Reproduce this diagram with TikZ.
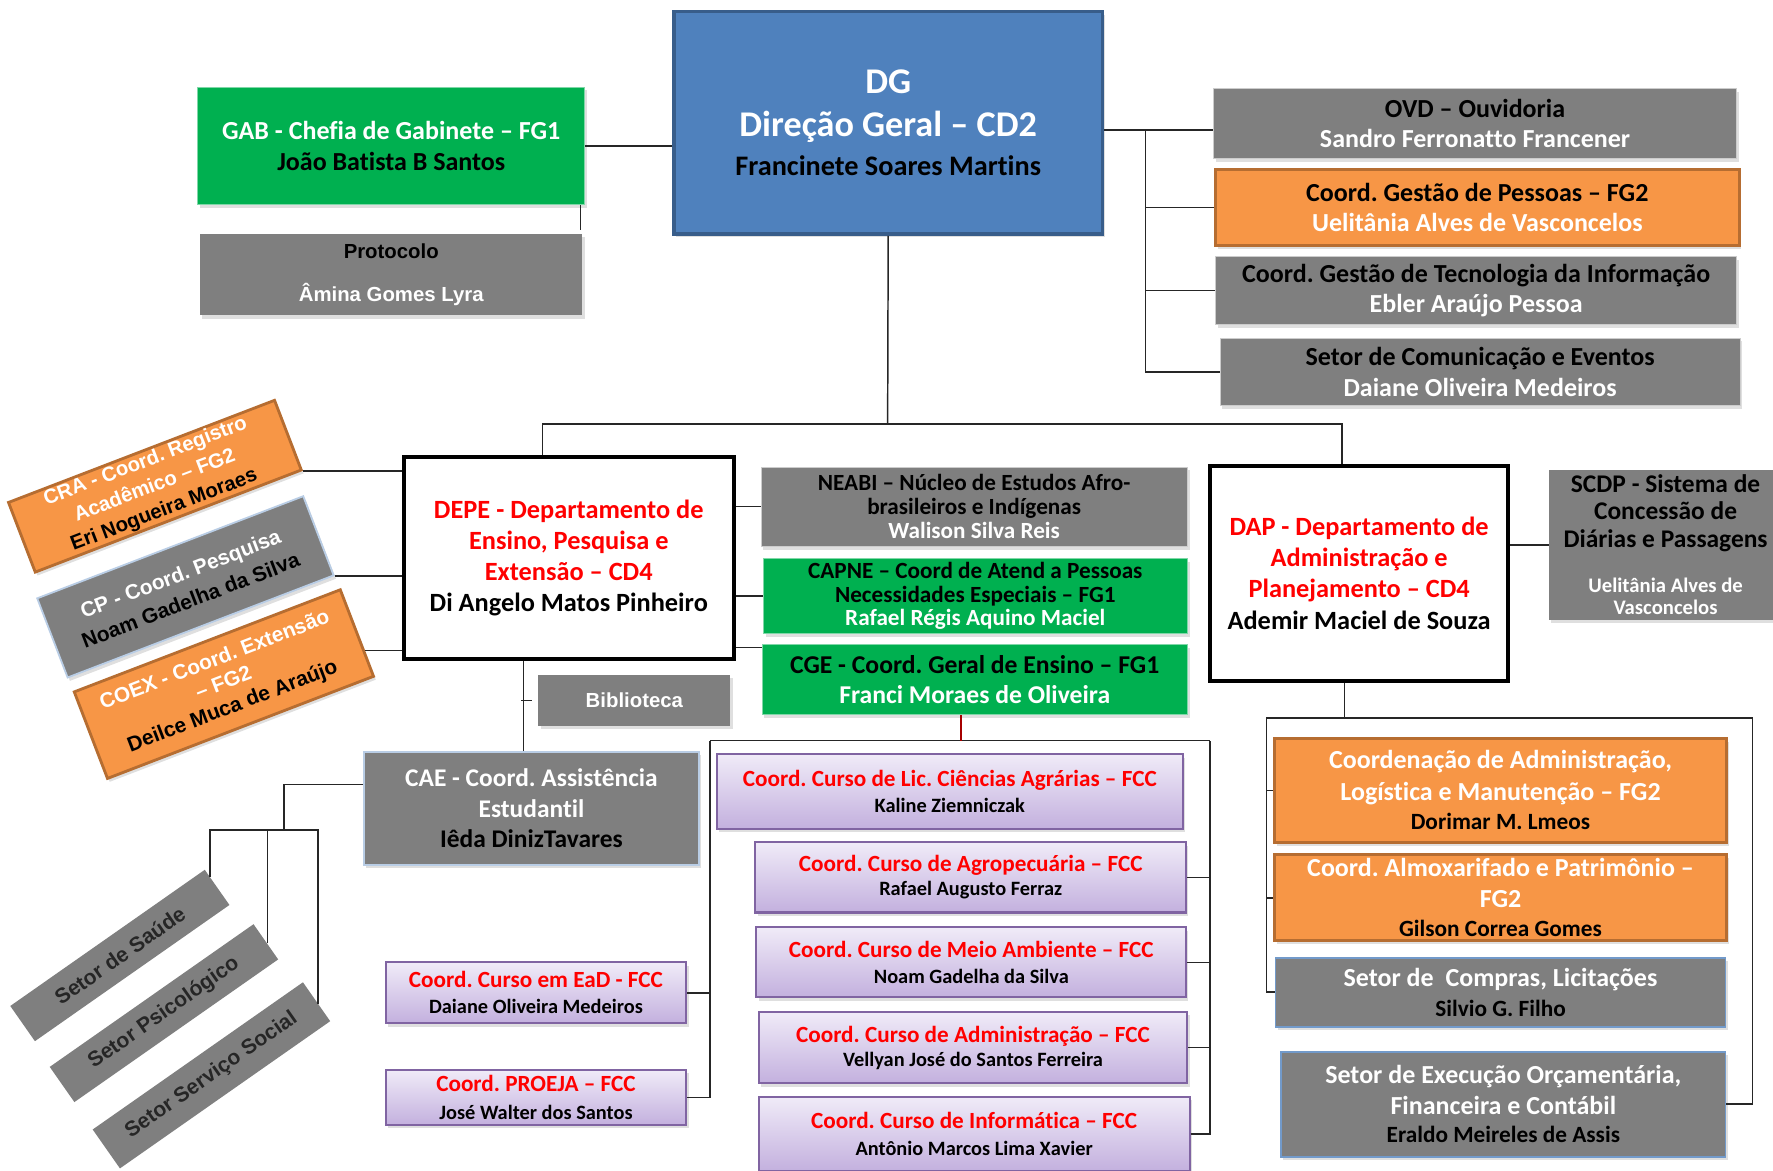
\documentclass[tikz,border=0pt]{standalone}
\usepackage{fontspec}
\setmainfont{Carlito}[Ligatures=NoCommon]
\newfontfamily\arialfont{Liberation Sans}
\usepackage{xcolor}
\usetikzlibrary{positioning,shadows,calc}

\definecolor{dgblue}{HTML}{4F81BD}
\definecolor{dgrim}{HTML}{385D8A}
\definecolor{gabgreen}{HTML}{00B050}
\definecolor{boxgray}{HTML}{7F7F7F}
\definecolor{orgfill}{HTML}{F79646}
\definecolor{orgrim}{HTML}{B66D31}
\definecolor{lavtop}{HTML}{F0EBF8}
\definecolor{lavbot}{HTML}{C3B0DE}
\definecolor{lavrim}{HTML}{8064A2}
\definecolor{txtred}{HTML}{FF0000}
\definecolor{lightrim}{HTML}{B9CDE5}

\newcommand{\fsz}[2]{\fontsize{#1}{#2}\selectfont}
\frenchspacing

\begin{document}
\begin{tikzpicture}[x=1pt,y=-1pt]
\tikzstyle{every node}+=[inner sep=0pt, align=center]
\tikzstyle{soft shadow}=[drop shadow={opacity=0.25,shadow xshift=2pt,shadow yshift=-3pt}]
\tikzstyle{grey box}=[fill=boxgray, draw=white!80!black, line width=0.8pt, soft shadow]
\tikzstyle{green box}=[fill=gabgreen, draw=gabgreen!50!white, line width=0.8pt, soft shadow]
\tikzstyle{orange box}=[fill=orgfill, draw=orgrim, line width=2.5pt, soft shadow]
\tikzstyle{dept box}=[fill=white, draw=black, line width=3.5pt]
\tikzstyle{course box}=[top color=lavtop, bottom color=lavbot, draw=lavrim, line width=1.8pt, soft shadow]
\tikzstyle{blue rim}=[draw=dgblue!80!white, line width=1.6pt]
\tikzstyle{link}=[draw=black!85, line width=1.3pt]
\useasboundingbox (0,0) rectangle (1568,1035);

% top level
\node[fill=dgblue, draw=dgrim, line width=3pt, soft shadow, minimum width=379pt, minimum height=197pt,
  font=\bfseries\fsz{32}{38}, text=white] (dg) at (785.5,108.5)
  {DG\\Direção Geral – CD2\\[-4pt]{\fsz{25}{28}\textcolor{black}{Francinete Soares Martins}}};
\node[green box, minimum width=342pt, minimum height=104pt, font=\bfseries\fsz{23}{27}] (gab) at (346,129)
  {\textcolor{white}{GAB - Chefia de Gabinete – FG1}\\João Batista B Santos};
\node[grey box, draw=none, minimum width=338pt, minimum height=72pt, font=\arialfont\bfseries\fsz{18}{38}] (prot) at (346,243)
  {\rule[-8pt]{0pt}{8pt}Protocolo\\\textcolor{white}{Âmina Gomes Lyra}};

% right of DG
\node[grey box, minimum width=463pt, minimum height=62pt, font=\bfseries\fsz{23}{27}] (ovd) at (1304.5,109)
  {OVD – Ouvidoria\\\textcolor{white}{Sandro Ferronatto Francener}};
\node[orange box, minimum width=463pt, minimum height=67pt, font=\bfseries\fsz{23}{27}] (pes) at (1306.5,183.5)
  {Coord. Gestão de Pessoas – FG2\\\textcolor{white}{Uelitânia Alves de Vasconcelos}};
\node[grey box, minimum width=461pt, minimum height=60pt, font=\bfseries\fsz{23}{27}] (tec) at (1305.5,257)
  {Coord. Gestão de Tecnologia da Informação\\\textcolor{white}{Ebler Araújo Pessoa}};
\node[grey box, minimum width=460pt, minimum height=60pt, font=\bfseries\fsz{23}{27}] (cme) at (1309,329)
  {Setor de Comunicação e Eventos\\\textcolor{white}{Daiane Oliveira Medeiros}};

% departments
\node[dept box, minimum width=292pt, minimum height=179pt, font=\bfseries\fsz{23.3}{27.5}] (depe) at (503,493.5)
  {\textcolor{txtred}{DEPE - Departamento de}\\\textcolor{txtred}{Ensino, Pesquisa e}\\\textcolor{txtred}{Extensão – CD4}\\Di Angelo Matos Pinheiro};
\node[dept box, minimum width=264pt, minimum height=190pt, font=\bfseries\fsz{23.3}{27.5}] (dap) at (1202,507)
  {\textcolor{txtred}{DAP - Departamento de}\\\textcolor{txtred}{Administração e}\\\textcolor{txtred}{Planejamento – CD4}\\Ademir Maciel de Souza};

% left of DEPE
\node[orange box, rotate=21, minimum width=252pt, minimum height=66pt, font=\arialfont\bfseries\fsz{18}{23}] (cra) at (137,430)
  {\textcolor{white}{CRA - Coord. Registro}\\\textcolor{white}{Acadêmico – FG2}\\Eri Nogueira Moraes};
\node[grey box, draw=lightrim, line width=1.6pt, rotate=21, minimum width=252pt, minimum height=75pt, font=\arialfont\bfseries\fsz{18.5}{25}] (cp) at (164,519)
  {\textcolor{white}{CP - Coord. Pesquisa}\\Noam Gadelha da Silva};
\node[orange box, rotate=21, minimum width=252pt, minimum height=82pt, font=\arialfont\bfseries\fsz{18.5}{22}] (coex) at (198,605)
  {\textcolor{white}{COEX - Coord. Extensão}\\\textcolor{white}{– FG2}\\Deilce Muca de Araújo};

% right of DEPE
\node[grey box, minimum width=377pt, minimum height=70pt, font=\bfseries\fsz{20.5}{21.5}] (neabi) at (861.5,448)
  {NEABI – Núcleo de Estudos Afro-\\brasileiros e Indígenas\\\textcolor{white}{Walison Silva Reis}};
\node[green box, minimum width=375pt, minimum height=66pt, font=\bfseries\fsz{20.5}{21}] (capne) at (862.5,527)
  {CAPNE – Coord de Atend a Pessoas\\Necessidades Especiais – FG1\\\textcolor{white}{Rafael Régis Aquino Maciel}};
\node[green box, minimum width=376pt, minimum height=62pt, font=\bfseries\fsz{22.7}{27}] (cge) at (862,601)
  {CGE - Coord. Geral de Ensino – FG1\\\textcolor{white}{Franci Moraes de Oliveira}};
\node[grey box, draw=none, minimum width=170pt, minimum height=45pt, font=\arialfont\bfseries\fsz{18}{20}, text=white] (bib) at (561,619.5)
  {Biblioteca};

% student assistance
\node[grey box, blue rim, draw=lightrim, minimum width=296pt, minimum height=100pt, font=\bfseries\fsz{22.5}{27}] (cae) at (470,715)
  {\textcolor{white}{CAE - Coord. Assistência}\\\textcolor{white}{Estudantil}\\Iêda DinizTavares};
\node[fill=boxgray, rotate=35, minimum width=210pt, minimum height=38pt, font=\arialfont\bfseries\fsz{18.7}{20}, text=black!85] (saude) at (106,845)
  {Setor de Saúde};
\node[fill=boxgray, rotate=35, minimum width=220pt, minimum height=38pt, font=\arialfont\bfseries\fsz{18.7}{20}, text=black!85] (psico) at (145,896)
  {Setor Psicológico};
\node[fill=boxgray, rotate=35, minimum width=227pt, minimum height=42pt, font=\arialfont\bfseries\fsz{18.7}{20}, text=black!85] (social) at (187,951)
  {Setor Serviço Social};

% courses
\node[course box, minimum width=412pt, minimum height=66pt, font=\bfseries\fsz{20.5}{23}] (agr) at (840,700)
  {\textcolor{txtred}{Coord. Curso de Lic. Ciências Agrárias – FCC}\\{\fsz{18}{20}Kaline Ziemniczak}};
\node[course box, minimum width=381pt, minimum height=62pt, font=\bfseries\fsz{20.5}{21}] (agro) at (858.5,776)
  {\textcolor{txtred}{Coord. Curso de Agropecuária – FCC}\\{\fsz{18}{20}Rafael Augusto Ferraz}};
\node[course box, minimum width=380pt, minimum height=62pt, font=\bfseries\fsz{20.5}{23}] (meio) at (859,851)
  {\textcolor{txtred}{Coord. Curso de Meio Ambiente – FCC}\\{\fsz{18}{20}Noam Gadelha da Silva}};
\node[course box, minimum width=379pt, minimum height=63pt, font=\bfseries\fsz{20.5}{21}] (adm) at (860.5,926.5)
  {\textcolor{txtred}{Coord. Curso de Administração – FCC}\\{\fsz{18}{20}Vellyan José do Santos Ferreira}};
\node[course box, minimum width=381pt, minimum height=66pt, font=\bfseries\fsz{20.5}{24}] (info) at (861.5,1003)
  {\textcolor{txtred}{Coord. Curso de Informática – FCC}\\{\fsz{18}{20}Antônio Marcos Lima Xavier}};
\node[course box, minimum width=266pt, minimum height=54pt, font=\bfseries\fsz{20.5}{23}] (ead) at (474,878)
  {\textcolor{txtred}{Coord. Curso em EaD - FCC}\\{\fsz{18}{20}Daiane Oliveira Medeiros}};
\node[course box, minimum width=266pt, minimum height=49pt, font=\bfseries\fsz{20.5}{24}] (proeja) at (474,970.5)
  {\textcolor{txtred}{Coord. PROEJA – FCC}\\{\fsz{18}{20}José Walter dos Santos}};

% under DAP
\node[grey box, draw=none, minimum width=206pt, minimum height=132pt, font=\bfseries\fsz{22.5}{24}] (scdp) at (1473,482)
  {SCDP - Sistema de\\Concessão de\\Diárias e Passagens\\[16pt]{\fsz{18.3}{20}\textcolor{white}{Uelitânia Alves de}}\\[-4pt]{\fsz{18.3}{20}\textcolor{white}{Vasconcelos}}};
\node[orange box, minimum width=400pt, minimum height=92pt, font=\bfseries\fsz{23}{28}] (coa) at (1327,699)
  {\textcolor{white}{Coordenação de Administração,}\\\textcolor{white}{Logística e Manutenção – FG2}\\[-2pt]{\fsz{20.6}{22}Dorimar M. Lmeos}};
\node[orange box, minimum width=400pt, minimum height=76pt, font=\bfseries\fsz{23}{27}] (alm) at (1327,794)
  {\textcolor{white}{Coord. Almoxarifado e Patrimônio –}\\\textcolor{white}{FG2}\\[-1pt]{\fsz{20.6}{22}Gilson Correa Gomes}};
\node[grey box, blue rim, minimum width=398pt, minimum height=61pt, font=\bfseries\fsz{23}{27}] (cmp) at (1327,877.5)
  {\textcolor{white}{Setor de\ \ Compras, Licitações}\\{\fsz{20.6}{22}Silvio G. Filho}};
\node[grey box, blue rim, minimum width=393pt, minimum height=93pt, font=\bfseries\fsz{23}{27}] (exe) at (1329.5,976.5)
  {\textcolor{white}{Setor de Execução Orçamentária,}\\\textcolor{white}{Financeira e Contábil}\\[-2pt]{\fsz{20.6}{22}Eraldo Meireles de Assis}};

% links of DG
\draw[link] (gab.east) -- (gab.east -| dg.west);
\draw[link] ([xshift=-4pt]gab.south east) -- ++(0,22);
\coordinate (rb) at (1013,115);
\draw[link] (dg.east |- rb) -- (rb) -- (rb -| ovd.west);
\draw[link] (rb) |- (pes.west);
\draw[link] (rb) |- (tec.west);
\draw[link] (rb) |- (cme.west);
\coordinate (mb) at (785,375);
\coordinate (depeIn) at ([xshift=-23pt]depe.north);
\coordinate (dapIn) at ([xshift=-15pt]dap.north);
\draw[link] (dg.south) -- (mb);
\draw[link] (depeIn) |- (mb) -| (dapIn);

% links of DEPE
\coordinate (coexOut) at ($(coex.north east)!0.7!(coex.south east)$);
\draw[link] (cra.south east) -- (cra.south east -| depe.west);
\draw[link] (cp.south east) -- (cp.south east -| depe.west);
\draw[link] (coexOut) -- (coexOut -| depe.west);
\coordinate (cgeIn) at ([yshift=-3pt]cge.north west);
\draw[link] (neabi.west) -- (neabi.west -| depe.east);
\draw[link] (capne.west) -- (capne.west -| depe.east);
\draw[link] (cgeIn) -- (cgeIn -| depe.east);
\coordinate (caeIn) at ([xshift=-7pt]cae.north);
\draw[link] (caeIn) -- (caeIn |- depe.south);
\coordinate (bibTick) at ([xshift=-15pt]bib.west);
\draw[link] (bibTick) -- ++(10,0);

% links of CAE
\coordinate (sb) at (251,734);
\coordinate (caeOut) at ($(cae.north west)!0.29!(cae.south west)$);
\coordinate (saIn) at ($(saude.north east)!0.2!(saude.south east)$);
\coordinate (psIn) at ($(psico.north east)!0.55!(psico.south east)$);
\coordinate (ssIn) at ($(social.north east)!0.55!(social.south east)$);
\draw[link] (caeOut) -| (sb);
\draw[link] (saIn) |- (sb);
\draw[link] (ssIn) |- (sb);
\draw[link] (psIn) -- (psIn |- sb);

% links of the courses
\coordinate (cbl) at (628,655);
\coordinate (cbr) at (1070,655);
\coordinate (cgeOut) at ([xshift=-12pt]cge.south);
\draw[link] (cbl) -- (cbr);
\draw[link, draw=red!65!black] (cgeOut) -- (cgeOut |- cbl);
\draw[link] (ead.east) -| (cbl);
\draw[link] (proeja.east) -| (cbl);
\draw[link] (agro.east) -| (cbr);
\draw[link] (meio.east) -| (cbr);
\draw[link] (adm.east) -| (cbr);
\draw[link] (info.east) -| (cbr);

% links of DAP
\coordinate (dbl) at (1120,635);
\coordinate (dbr) at (1550,635);
\coordinate (dapOut) at ([xshift=-13pt]dap.south);
\draw[link] (scdp.west) -- (scdp.west -| dap.east);
\draw[link] (dapOut) -- (dapOut |- dbl);
\draw[link] (dbl) -- (dbr);
\draw[link] (coa.west) -| (dbl);
\draw[link] (alm.west) -| (dbl);
\draw[link] (cmp.west) -| (dbl);
\draw[link] (exe.east) -| (dbr);
\end{tikzpicture}
\end{document}
